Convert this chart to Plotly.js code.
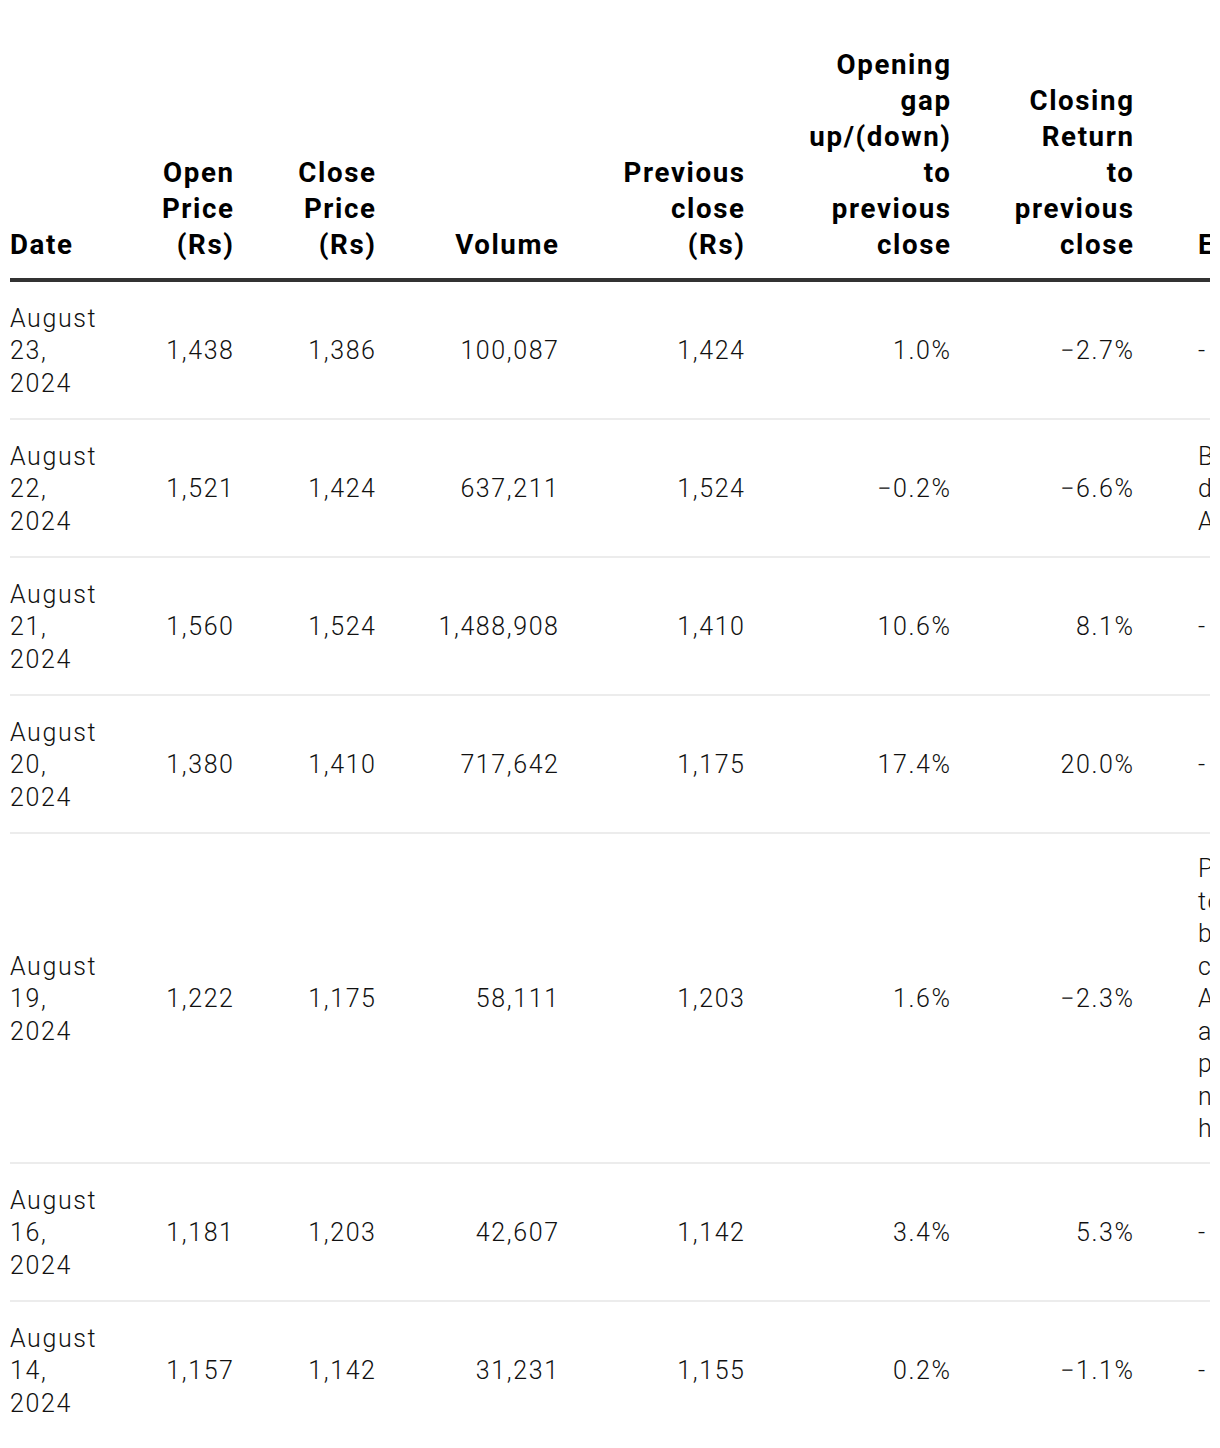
<!DOCTYPE html>
<html>
<head>
<meta charset="utf-8">
<script src="https://cdn.plot.ly/plotly-3.0.1.min.js"></script>
<style>
html,body{margin:0;padding:0;background:#fff;overflow:hidden}
#chart .textpoint text{letter-spacing:1.6px}
</style>
</head>
<body>
<div id="chart" style="width:1220px;height:1448px"></div>
<script>
// ---- data ----
const headers = ["Date", "Open Price (Rs)", "Close Price (Rs)", "Volume", "Previous close (Rs)",
  "Opening gap up/(down) to previous close", "Closing Return to previous close", "Event"];
const dates = ["August 23, 2024", "August 22, 2024", "August 21, 2024", "August 20, 2024",
  "August 19, 2024", "August 16, 2024", "August 14, 2024"];
const openPrice = [1438, 1521, 1560, 1380, 1222, 1181, 1157];
const closePrice = [1386, 1424, 1524, 1410, 1175, 1203, 1142];
const volume = [100087, 637211, 1488908, 717642, 58111, 42607, 31231];
const prevClose = [1424, 1524, 1410, 1175, 1203, 1142, 1155];
const openingGap = [1.0, -0.2, 10.6, 17.4, 1.6, 3.4, 0.2];
const closingReturn = [-2.7, -6.6, 8.1, 20.0, -2.3, 5.3, -1.1];
const events = ["-", "Block deal Announced", "-", "-",
  "Proposal to board considering Acquisition and plant near headquarters", "-", "-"];

// ---- style ----
const FONT = "Roboto, 'Noto Sans', sans-serif";
const HEAD_FS = 27.7, BODY_FS = 25;
const SPACING = 1.6;
const colEdge = [10, 233, 375, 558, 744, 950, 1133, 1198];
const colAlign = ["left", "right", "right", "right", "right", "right", "right", "left"];
const colX = colEdge.map((x, i) => colAlign[i] === "right" ? x + SPACING : x);
const HEAD_BASE = 254;          // baseline of header's last line
const RULE_Y = 280, FIRST_TOP = 281;
const LINE = 32, PAD = 21;
const X_END = 1210;

// ---- formatting ----
const fmtInt = v => v.toLocaleString("en-US");
const fmtPct = v => (v < 0 ? "\u2212" : "") + Math.abs(v).toFixed(1) + "%";
const wrap = s => s.split(" ").join("<br>");

const columns = [
  dates.map(wrap),
  openPrice.map(fmtInt),
  closePrice.map(fmtInt),
  volume.map(fmtInt),
  prevClose.map(fmtInt),
  openingGap.map(fmtPct),
  closingReturn.map(fmtPct),
  events.map(wrap)
];
const nLines = s => s.split("<br>").length;

// row geometry derived from content line counts
const rowLines = dates.map((_, r) => Math.max(...columns.map(c => nLines(c[r]))));
const rowCenters = [], rowBounds = [];
let rowTop = FIRST_TOP;
rowLines.forEach(n => {
  const h = n * LINE + 2 * PAD;
  rowCenters.push(rowTop + h / 2);
  rowTop += h;
  rowBounds.push(rowTop);
});

const traces = [];
// header
headers.forEach((h, c) => {
  const txt = "<b>" + wrap(h) + "</b>";
  const n = nLines(wrap(h));
  traces.push({
    type: "scatter", mode: "text", hoverinfo: "skip", showlegend: false,
    x: [colX[c]], y: [HEAD_BASE - 0.25 * HEAD_FS - (n - 1) * 0.65 * HEAD_FS],
    text: [txt],
    textposition: colAlign[c] === "left" ? "middle right" : "middle left",
    textfont: {family: FONT, size: HEAD_FS, color: "#000", weight: 700}
  });
});
// body
columns.forEach((col, c) => {
  traces.push({
    type: "scatter", mode: "text", hoverinfo: "skip", showlegend: false,
    x: col.map(() => colX[c]),
    y: rowCenters.map(yc => yc + 9 - 0.25 * BODY_FS),
    text: col,
    textposition: colAlign[c] === "left" ? "middle right" : "middle left",
    textfont: {family: FONT, size: BODY_FS, color: "#111", weight: 300}
  });
});

const shapes = [{type: "line", xref: "x", yref: "y", x0: colEdge[0], x1: X_END, y0: RULE_Y, y1: RULE_Y,
  line: {color: "#333", width: 4}}];
rowBounds.slice(0, -1).forEach(b => shapes.push({type: "line", xref: "x", yref: "y",
  x0: colEdge[0], x1: X_END, y0: b, y1: b, line: {color: "#ececec", width: 2}}));

const layout = {
  width: 1220, height: 1448,
  margin: {l: 0, r: 1220 - X_END, t: 0, b: 0, pad: 0},
  paper_bgcolor: "#fff", plot_bgcolor: "#fff",
  xaxis: {range: [0, X_END], visible: false, fixedrange: true},
  yaxis: {range: [1448, 0], visible: false, fixedrange: true},
  shapes: shapes,
  showlegend: false
};
Plotly.newPlot("chart", traces, layout, {staticPlot: true, displayModeBar: false});
</script>
</body>
</html>
